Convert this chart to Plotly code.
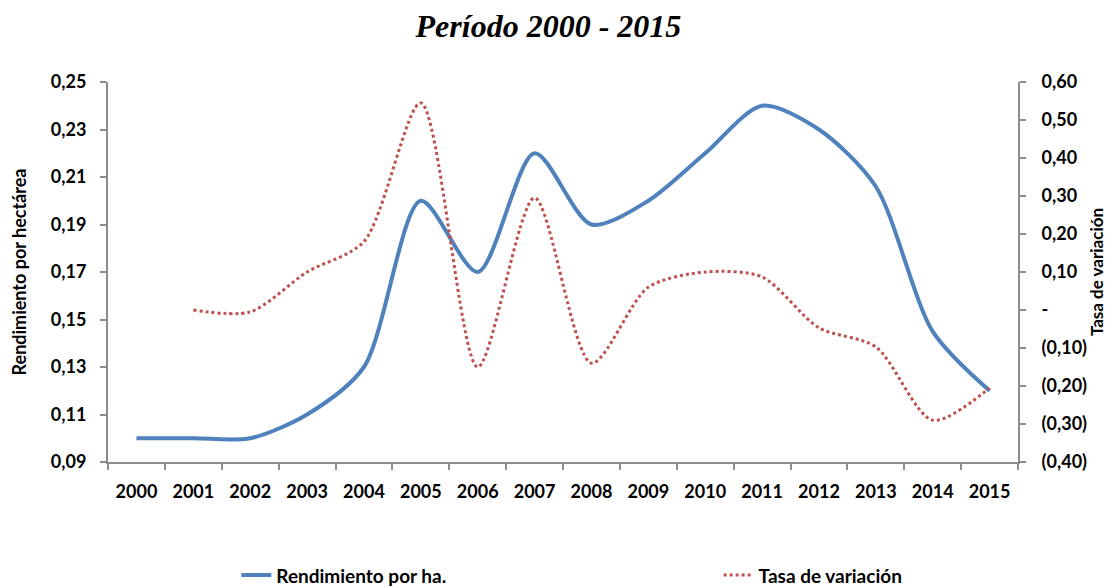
import plotly.graph_objects as go

years = [str(y) for y in range(2000, 2016)]
rendimiento = [0.10, 0.10, 0.10, 0.11, 0.13, 0.20, 0.17, 0.22, 0.19, 0.20,
               0.22, 0.24, 0.23, 0.206, 0.145, 0.12]
tasa = [None, 0.0, -0.005, 0.10, 0.18, 0.545, -0.15, 0.295, -0.14, 0.06,
        0.10, 0.087, -0.047, -0.097, -0.29, -0.205]

left_ticks = [0.09, 0.11, 0.13, 0.15, 0.17, 0.19, 0.21, 0.23, 0.25]
left_labels = ["0,09", "0,11", "0,13", "0,15", "0,17", "0,19", "0,21", "0,23", "0,25"]
right_ticks = [-0.4, -0.3, -0.2, -0.1, 0.0, 0.1, 0.2, 0.3, 0.4, 0.5, 0.6]
right_labels = ["(0,40)", "(0,30)", "(0,20)", "(0,10)", "-", "0,10", "0,20",
                "0,30", "0,40", "0,50", "0,60"]

font_main = "Lato, Open Sans, sans-serif"
axis_grey = "#8c8c8c"
tick_font = dict(size=18, family=font_main, weight="bold", color="black")

fig = go.Figure()

fig.add_trace(go.Scatter(
    x=years, y=rendimiento, name="Rendimiento por ha.",
    mode="lines", line=dict(color="#4F81BD", width=4, shape="spline", smoothing=0.8),
    yaxis="y", legend="legend"
))
fig.add_trace(go.Scatter(
    x=years, y=tasa, name="Tasa de variación",
    mode="lines", line=dict(color="#C0504D", width=3, dash="dot", shape="spline", smoothing=0.8),
    yaxis="y2", legend="legend2"
))

# page has an 8px body margin, so the figure is sized 1112x580
fig.update_layout(
    width=1112, height=580,
    margin=dict(l=100, r=102, t=74, b=126, autoexpand=False),
    paper_bgcolor="white", plot_bgcolor="white",
    title=dict(
        text="<b><i>Período 2000 - 2015</i></b>",
        x=0.486, xanchor="center", y=0.969, yanchor="middle",
        font=dict(family="Liberation Serif, Times New Roman, serif", size=32, color="black")
    ),
    font=dict(family=font_main, color="black"),
    xaxis=dict(
        type="category", tickson="boundaries", range=[-0.5, 15.5],
        showline=True, linecolor=axis_grey, linewidth=2,
        ticks="outside", ticklen=6, tickcolor=axis_grey, tickwidth=1.5,
        showgrid=False, zeroline=False, ticklabelstandoff=12, tickangle=0,
        tickfont=tick_font,
    ),
    yaxis=dict(
        range=[0.09, 0.25], tickvals=left_ticks, ticktext=left_labels,
        showline=True, linecolor=axis_grey, linewidth=2,
        ticks="outside", ticklen=6, tickcolor=axis_grey, tickwidth=1.5,
        showgrid=False, zeroline=False, ticklabelstandoff=10,
        tickfont=tick_font,
        title=dict(text="<b>Rendimiento por hectárea</b>", standoff=22,
                   font=dict(size=18, family=font_main)),
    ),
    yaxis2=dict(
        range=[-0.4, 0.6], tickvals=right_ticks, ticktext=right_labels,
        overlaying="y", side="right",
        showline=True, linecolor=axis_grey, linewidth=2,
        ticks="outside", ticklen=6, tickcolor=axis_grey, tickwidth=1.5,
        showgrid=False, zeroline=False, ticklabelstandoff=12,
        tickfont=tick_font,
        title=dict(text="<b>Tasa de variación</b>", standoff=5,
                   font=dict(size=17, family=font_main)),
    ),
    legend=dict(
        x=0.141, xanchor="left", y=-0.298, yanchor="middle",
        font=dict(size=19, family=font_main, weight="bold"),
        bgcolor="rgba(0,0,0,0)"
    ),
    legend2=dict(
        x=0.671, xanchor="left", y=-0.298, yanchor="middle",
        font=dict(size=19, family=font_main, weight="bold"),
        bgcolor="rgba(0,0,0,0)"
    ),
    showlegend=True,
)

fig.write_html("out.html")
